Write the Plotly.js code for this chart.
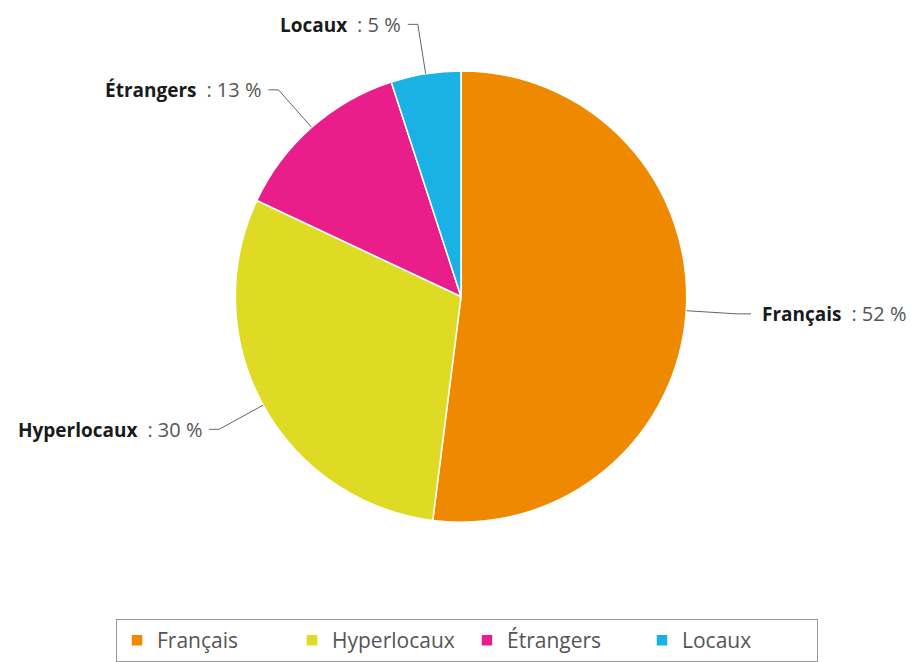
<!DOCTYPE html>
<html><head><meta charset="utf-8">
<script src="https://cdn.plot.ly/plotly-3.0.1.min.js"></script>
<style>html,body{margin:0;padding:0;background:#fff;}#chart{width:916px;height:662px;}</style>
</head><body><div id="chart"></div>
<script>
const categories = ["Français", "Hyperlocaux", "Étrangers", "Locaux"];
const values = [52, 30, 13, 5];
const colors = ["#EF8A00", "#DFDB24", "#E91E8B", "#1AB1E4"];

const W = 916, H = 662;
const cx = 461, cy = 297, R = 226;   // pie geometry in pixels
const dom = {x: [(cx - R) / W, (cx + R) / W], y: [1 - (cy + R) / H, 1 - (cy - R) / H]};

const total = values.reduce((a, b) => a + b, 0);
const shapes = [], annotations = [];
let cum = 0;
values.forEach((v, i) => {
  const mid = (cum + v / 2) / total * 2 * Math.PI; cum += v;
  const dx = Math.sin(mid), dy = -Math.cos(mid);
  const ex = cx + R * dx, ey = cy + R * dy;
  const ox = cx + (R + 50) * dx, oy = cy + (R + 50) * dy;
  const right = dx >= 0;
  const hx = right ? Math.max(ox + 10, cx + R + 64) : ox - 10;
  const tx = right ? hx + 9 : hx - 5;
  const px = x => x / W, py = y => 1 - y / H;
  shapes.push({type: 'path', xref: 'paper', yref: 'paper',
    path: `M${px(ex)},${py(ey)} L${px(ox)},${py(oy)} L${px(hx)},${py(oy)}`,
    line: {color: '#666', width: 1}});
  annotations.push({xref: 'paper', yref: 'paper', x: px(tx), y: py(oy),
    xanchor: right ? 'left' : 'right', yanchor: 'middle', showarrow: false,
    text: `<b>${categories[i]}</b>&nbsp;&nbsp;<span style="color:#555;font-size:20px">:&nbsp;${v}&nbsp;%</span>`,
    font: {family: 'Open Sans, sans-serif', size: 19, color: '#1a1a1a'}});
});

const data = [{
  type: 'pie', labels: categories, values: values, sort: false,
  direction: 'clockwise', rotation: 0, textinfo: 'none', hoverinfo: 'label+percent',
  marker: {colors: colors, line: {color: '#fff', width: 1.5}},
  domain: dom
}];

const layout = {
  width: W, height: H, margin: {l: 0, r: 0, t: 0, b: 0},
  paper_bgcolor: '#fff', showlegend: true,
  legend: {orientation: 'h', x: 116 / W, xanchor: 'left', y: 1 - 620 / H, yanchor: 'top',
    bordercolor: '#999', borderwidth: 1, bgcolor: '#fff', entrywidth: 130,
    font: {family: 'Open Sans, sans-serif', size: 21, color: '#555'}},
  shapes: shapes, annotations: annotations
};
Plotly.newPlot('chart', data, layout, {displayModeBar: false, staticPlot: true});
</script></body></html>
